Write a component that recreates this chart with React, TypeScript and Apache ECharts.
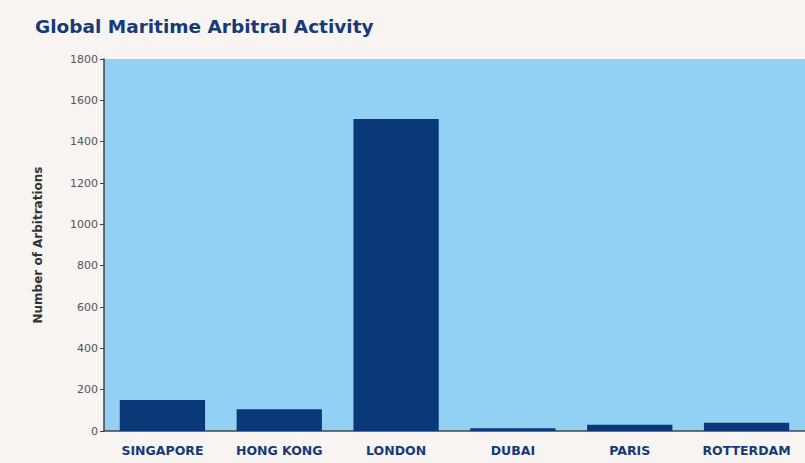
import React, { useEffect, useRef } from "react";
import * as echarts from "echarts";

const categories = ["SINGAPORE", "HONG KONG", "LONDON", "DUBAI", "PARIS", "ROTTERDAM"];
const arbitrations = [150, 105, 1510, 13, 30, 40];
const yTicks = { min: 0, max: 1800, interval: 200 };

export default function App() {
  const ref = useRef<HTMLDivElement>(null);
  useEffect(() => {
    if (!ref.current) return;
    const chart = echarts.init(ref.current, null, { renderer: "svg" });
    chart.setOption({
      animation: false,
      backgroundColor: "#f7f4f2",
      title: {
        text: "Global Maritime Arbitral Activity",
        left: 30,
        top: 12,
        textStyle: { fontFamily: "DejaVu Sans", fontWeight: "bold", fontSize: 18.5, color: "#163a78" },
      },
      grid: { left: 104, right: 0, top: 59, bottom: 32, backgroundColor: "#92d1f3", show: true, borderWidth: 0 },
      xAxis: {
        type: "category",
        data: categories,
        axisLine: { show: true, lineStyle: { color: "#444", width: 1.5 } },
        axisTick: { show: false },
        axisLabel: { fontFamily: "DejaVu Sans", fontWeight: "bold", fontSize: 12.5, color: "#163a78", margin: 13 },
      },
      yAxis: {
        type: "value",
        min: yTicks.min,
        max: yTicks.max,
        interval: yTicks.interval,
        name: "Number of Arbitrations",
        nameLocation: "middle",
        nameGap: 60,
        nameTextStyle: { fontFamily: "DejaVu Sans", fontWeight: "bold", fontSize: 12, color: "#333" },
        axisLine: { show: true, lineStyle: { color: "#444", width: 1.5 } },
        axisTick: { show: true, length: 4, lineStyle: { color: "#444" } },
        splitLine: { show: false },
        axisLabel: { fontFamily: "DejaVu Sans", fontSize: 11, color: "#555", margin: 6, formatter: (v: number) => String(v) },
      },
      series: [
        {
          type: "bar",
          data: arbitrations,
          barCategoryGap: "27%",
          itemStyle: { color: "#0b3878" },
        },
      ],
    });
    return () => chart.dispose();
  }, []);
  return <div ref={ref} style={{ position: "fixed", left: 0, top: 0, width: 805, height: 463 }} />;
}
